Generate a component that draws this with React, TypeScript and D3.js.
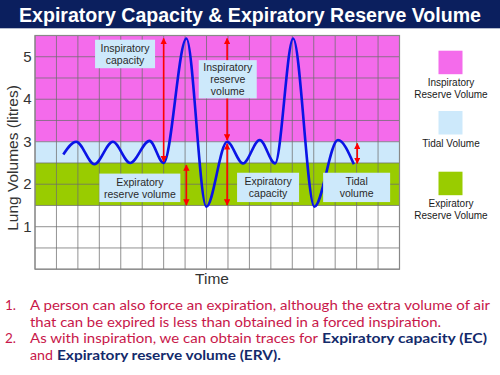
import React from "react";
import * as d3 from "d3";

// ---- data ----
const traceTime = [1.32, 1.92, 2.77, 3.63, 4.44, 5.34, 6.0, 7.06, 7.99, 8.96, 9.7, 10.48, 11.2, 12.04, 13.03, 14.13, 14.87];
const traceVolume = [2.7, 3.0, 2.47, 3.0, 2.5, 3.02, 2.5, 5.43, 1.47, 3.0, 2.49, 3.04, 2.49, 5.43, 1.47, 3.04, 2.47];

const bandNames = ["Inspiratory Reserve Volume", "Tidal Volume", "Expiratory Reserve Volume"];
const bandLow = [3, 2.5, 1.5];
const bandHigh = [5.5, 3, 2.5];
const bandColors = ["#f46beb", "#cde9fb", "#99cc00"];

const arrowTime = [6.0, 7.06, 8.96, 8.96, 15.03];
const arrowFrom = [2.53, 1.51, 3.04, 1.51, 2.49];
const arrowTo = [5.43, 2.45, 5.43, 2.95, 2.96];

const labelLines = [
  ["Inspiratory", "capacity"],
  ["Inspiratory", "reserve", "volume"],
  ["Expiratory", "reserve volume"],
  ["Expiratory", "capacity"],
  ["Tidal", "volume"],
];

const yTicks = [1, 2, 3, 4, 5];

const noteLines = [
  { num: "1.", parts: [{ t: "A person can also force an expiration, although the extra volume of air", blue: false, x0: 30, x1: 490 }] },
  { num: "", parts: [{ t: "that can be expired is less than obtained in a forced inspiration.", blue: false, x0: 30, x1: 441 }] },
  {
    num: "2.",
    parts: [
      { t: "As with inspiration, we can obtain traces for", blue: false, x0: 30, x1: 318 },
      { t: "Expiratory capacity (EC)", blue: true, x0: 322, x1: 487 },
    ],
  },
  {
    num: "",
    parts: [
      { t: "and", blue: false, x0: 30, x1: 53 },
      { t: "Expiratory reserve volume (ERV).", blue: true, x0: 57, x1: 281 },
    ],
  },
];

export default function App() {
  const W = 500;
  const H = 375;
  const left = 35;
  const right = 399.5;
  const top = 35.5;
  const bottom = 269.2;

  const x = d3.scaleLinear().domain([0, 17]).range([left, right]);
  const y = d3.scaleLinear().domain([0, 5.5]).range([bottom, top]);

  const line = d3
    .line<number>()
    .x((_, i) => x(traceTime[i]))
    .y((d) => y(d))
    .curve(d3.curveMonotoneX);

  const vGrid = d3.range(0, 18);
  const hGrid = d3.range(0, 5.51, 0.5);

  const labelBoxes = [
    { cx: x(4.2), y0: y(5.4), y1: y(4.73) },
    { cx: x(8.99), y0: y(4.92), y1: y(4.02) },
    { cx: x(4.89), y0: y(2.25), y1: y(1.58) },
    { cx: x(10.87), y0: y(2.27), y1: y(1.58) },
    { cx: x(15.0), y0: y(2.27), y1: y(1.58) },
  ];
  const boxWidths = [60, 58, 81, 62, 67];

  const legendY = [50.7, 111, 171.7];

  const font = "Arial, 'Liberation Sans', sans-serif";
  const noteFont = "Lato, 'DejaVu Sans', sans-serif";

  return (
    <svg
      width={W}
      height={H}
      style={{ position: "absolute", left: 0, top: 0, background: "#fff" }}
      fontFamily={font}
    >
      <defs>
        <marker id="ah" viewBox="0 0 10 10" refX="9" refY="5" markerWidth="4" markerHeight="4" orient="auto-start-reverse">
          <path d="M0,0 L10,5 L0,10 z" fill="#ff0000" />
        </marker>
      </defs>

      {/* title bar */}
      <rect x={0} y={0} width={W} height={28.3} fill="#0b1f5e" />
      <text
        x={19}
        y={22}
        fill="#fff"
        fontSize={20}
        fontWeight="bold"
        textLength={462}
        lengthAdjust="spacingAndGlyphs"
      >
        Expiratory Capacity &amp; Expiratory Reserve Volume
      </text>

      {/* bands */}
      {bandNames.map((n, i) => (
        <rect
          key={n}
          x={left}
          y={y(bandHigh[i])}
          width={right - left}
          height={y(bandLow[i]) - y(bandHigh[i])}
          fill={bandColors[i]}
        />
      ))}

      {/* grid */}
      {vGrid.map((t) => (
        <line key={"v" + t} x1={x(t)} x2={x(t)} y1={top} y2={bottom} stroke="#6e6e6e" strokeOpacity={0.75} strokeWidth={1} />
      ))}
      {hGrid.map((v) => (
        <line key={"h" + v} x1={left} x2={right} y1={y(v)} y2={y(v)} stroke="#6e6e6e" strokeOpacity={0.75} strokeWidth={1} />
      ))}
      <rect x={left} y={top} width={right - left} height={bottom - top} fill="none" stroke="#888" strokeWidth={1.2} />

      {/* trace */}
      <path d={line(traceVolume) || ""} fill="none" stroke="#0a14e6" strokeWidth={2.6} />

      {/* arrows */}
      {arrowTime.map((t, i) => (
        <line
          key={"a" + i}
          x1={x(t)}
          x2={x(t)}
          y1={y(arrowFrom[i])}
          y2={y(arrowTo[i])}
          stroke="#ff0000"
          strokeWidth={1.6}
          markerStart="url(#ah)"
          markerEnd="url(#ah)"
        />
      ))}

      {/* labels */}
      {labelLines.map((lines, i) => {
        const b = labelBoxes[i];
        const w = boxWidths[i];
        const h = b.y1 - b.y0;
        const n = lines.length;
        const step = 11.8;
        const mid = (b.y0 + b.y1) / 2;
        return (
          <g key={"l" + i}>
            <rect x={b.cx - w / 2} y={b.y0} width={w} height={h} fill="#cde9fb" />
            {lines.map((s, j) => (
              <text
                key={j}
                x={b.cx}
                y={mid + (j - (n - 1) / 2) * step + 3.8}
                textAnchor="middle"
                fontSize={10.5}
                fill="#2a2a2a"
              >
                {s}
              </text>
            ))}
          </g>
        );
      })}

      {/* y ticks */}
      {yTicks.map((v) => (
        <text key={"t" + v} x={31.5} y={y(v) + 5} textAnchor="end" fontSize={15} fill="#333">
          {v}
        </text>
      ))}
      <text transform={`translate(18,158) rotate(-90)`} textAnchor="middle" fontSize={15.5} fill="#333">
        Lung Volumes (litres)
      </text>
      <text x={212} y={284} textAnchor="middle" fontSize={15.5} fill="#333">
        Time
      </text>

      {/* legend */}
      {bandNames.map((n, i) => {
        const words = n.split(" ");
        const ls = i === 1 ? [n] : [words[0], words.slice(1).join(" ")];
        return (
          <g key={"lg" + i}>
            <rect x={438.5} y={legendY[i]} width={24} height={23.5} fill={bandColors[i]} />
            {ls.map((s, j) => (
              <text key={j} x={451} y={legendY[i] + 35.5 + j * 11.5} textAnchor="middle" fontSize={10} fill="#1a1a1a">
                {s}
              </text>
            ))}
          </g>
        );
      })}

      {/* notes */}
      {noteLines.map((ln, i) => {
        const yy = 310 + i * 16.7;
        return (
          <g key={"n" + i}>
            {ln.num && (
              <text x={5} y={yy} fontSize={13.5} fill="#c8174a" fontFamily={noteFont}>
                {ln.num}
              </text>
            )}
            {ln.parts.map((p, k) => (
              <text
                key={k}
                x={p.x0}
                y={yy}
                fontSize={13.5}
                fill={p.blue ? "#132a6b" : "#c8174a"}
                fontWeight={p.blue ? "bold" : "normal"}
                textLength={p.x1 - p.x0}
                lengthAdjust="spacingAndGlyphs"
                fontFamily={noteFont}
              >
                {p.t}
              </text>
            ))}
          </g>
        );
      })}
    </svg>
  );
}
